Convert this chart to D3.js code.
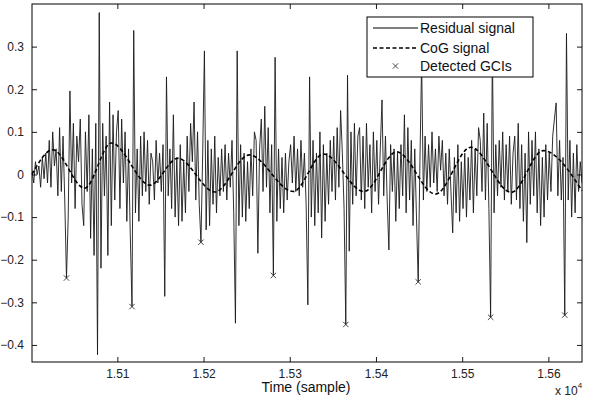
<!DOCTYPE html>
<html>
<head>
<meta charset="utf-8">
<style>
body { margin: 0; background: #fff; }
text { font-family: "Liberation Sans", Arial, sans-serif; }
</style>
</head>
<body>
<svg width="589" height="402"></svg>
<script src="https://d3js.org/d3.v7.min.js"></script>
<script>

// residual signal, one value every 2 samples starting at sample 15001
var resStart = 15001, resStep = 2;
var residual = [
  0.01,-0.02,0.03,0.00,0.02,-0.03,0.04,-0.01,0.05,-0.02,
  0.08,-0.03,0.10,0.02,0.06,-0.05,0.11,-0.04,0.09,-0.06,
  -0.243,-0.10,0.196,-0.02,0.12,-0.08,0.09,0.03,0.13,-0.07,
  -0.12,0.10,-0.04,0.14,-0.15,0.06,-0.19,0.12,-0.423,0.38,
  -0.22,0.12,-0.05,0.09,-0.19,0.17,-0.12,0.14,-0.06,0.10,
  0.15,-0.08,0.13,-0.02,0.10,-0.11,0.06,-0.14,-0.31,0.338,
  -0.09,0.06,-0.11,0.09,-0.05,0.10,-0.04,0.08,-0.07,0.05,
  0.03,-0.06,0.08,-0.02,0.05,-0.04,0.07,-0.286,0.229,-0.05,
  0.06,-0.08,0.14,-0.10,0.04,-0.12,0.07,-0.11,0.03,-0.09,
  0.09,-0.04,0.12,0.03,0.17,-0.06,0.10,-0.07,-0.159,0.05,
  0.29,-0.13,0.08,-0.12,0.06,-0.07,0.09,-0.09,0.04,-0.05,
  0.06,-0.04,0.07,-0.06,0.05,-0.03,0.08,-0.09,-0.349,0.29,
  -0.12,0.07,-0.10,0.05,-0.11,0.03,-0.08,0.06,-0.05,0.10,
  0.08,-0.185,0.06,0.13,-0.04,0.16,-0.03,0.11,-0.09,0.07,
  -0.237,0.275,-0.11,0.06,-0.08,0.04,-0.09,0.05,-0.06,0.03,
  0.07,-0.02,0.09,-0.04,0.06,-0.05,0.08,-0.03,0.05,-0.07,
  -0.306,0.229,-0.10,0.08,-0.12,0.05,-0.09,0.10,-0.149,0.07,
  -0.11,0.05,-0.07,0.08,-0.04,0.09,-0.06,0.11,-0.03,0.15,
  0.05,-0.08,-0.352,0.233,-0.18,0.10,-0.07,0.12,-0.05,0.09,
  0.11,-0.06,0.09,-0.08,0.12,-0.03,0.07,-0.09,0.10,-0.04,
  0.08,-0.07,0.06,0.175,-0.05,0.09,-0.06,-0.177,0.07,-0.04,
  0.06,-0.11,0.05,-0.08,0.07,-0.05,0.14,-0.09,0.11,-0.06,
  0.08,-0.12,0.06,-0.10,-0.252,0.03,0.27,-0.06,0.09,-0.04,
  0.07,-0.03,0.10,-0.02,0.06,-0.04,0.09,0.01,0.08,-0.05,
  0.05,-0.07,0.06,-0.04,-0.137,0.04,-0.09,0.07,-0.11,0.03,
  -0.08,0.05,-0.10,0.04,-0.06,0.08,-0.09,0.06,-0.05,0.11,
  0.08,-0.04,0.144,-0.06,0.12,-0.08,-0.335,0.30,-0.09,0.07,
  -0.05,0.08,-0.03,0.10,-0.06,0.07,-0.04,0.09,-0.07,0.05,
  0.09,-0.06,0.12,-0.08,0.07,-0.11,0.05,-0.16,0.10,-0.07,
  0.08,-0.05,0.10,-0.09,0.06,-0.12,0.04,-0.10,0.07,-0.06,
  0.05,-0.04,0.09,0.13,0.168,-0.05,0.08,-0.06,0.04,-0.33,
  0.331,-0.06,0.08,-0.10,0.05,-0.09,0.07,-0.04,0.03,-0.02
];

// CoG signal, read at its turning points
var cogX = [15001,15025,15062,15093,15138,15170,15213,15253,15304,15339,15386,15424,15469,15510,15557,15594,15639];
var cogY = [0.0,0.058,-0.032,0.074,-0.025,0.038,-0.041,0.046,-0.040,0.048,-0.040,0.053,-0.046,0.064,-0.042,0.056,-0.038];

// detected GCIs
var gciX = [15041,15117,15197,15281,15365,15449,15533,15619];
var gciY = [-0.243,-0.31,-0.159,-0.237,-0.352,-0.252,-0.335,-0.33];

var xTicks = [15100,15200,15300,15400,15500,15600];
var xTickLabels = ["1.51","1.52","1.53","1.54","1.55","1.56"];
var yTicks = [-0.4,-0.3,-0.2,-0.1,0,0.1,0.2,0.3];
var legendNames = ["Residual signal","CoG signal","Detected GCIs"];

var svg = d3.select("svg"),
    width = +svg.attr("width"),
    height = +svg.attr("height"),
    margin = {left: 32, top: 4, right: 7, bottom: 40},
    w = width - margin.left - margin.right,
    h = height - margin.top - margin.bottom;

var x = d3.scaleLinear().domain([15001, 15639]).range([0, w]);
var y = d3.scaleLinear().domain([-0.44, 0.40]).range([h, 0]);

var g = svg.append("g").attr("transform", "translate(" + margin.left + "," + margin.top + ")");

svg.append("clipPath").attr("id", "plot").append("rect")
    .attr("width", w).attr("height", h);

var resLine = d3.line()
    .x(function(d, i){ return x(resStart + i*resStep); })
    .y(function(d){ return y(d); });

g.append("path")
    .datum(residual)
    .attr("d", resLine)
    .attr("clip-path", "url(#plot)")
    .style("fill", "none")
    .style("stroke", "#1a1a1a")
    .style("stroke-width", 0.9);

var cogLine = d3.line()
    .curve(d3.curveMonotoneX)
    .x(function(d, i){ return x(cogX[i]); })
    .y(function(d){ return y(d); });

g.append("path")
    .datum(cogY)
    .attr("d", cogLine)
    .style("fill", "none")
    .style("stroke", "#000")
    .style("stroke-width", 1.6)
    .style("stroke-dasharray", "4,2.5");

function cross(sel, cx, cy, r){
    sel.append("path")
        .attr("d", "M" + (cx-r) + "," + (cy-r) + "L" + (cx+r) + "," + (cy+r) +
                   "M" + (cx-r) + "," + (cy+r) + "L" + (cx+r) + "," + (cy-r))
        .style("stroke", "#333")
        .style("stroke-width", 0.9)
        .style("fill", "none");
}
for(var i=0;i<gciX.length;i++){
    cross(g, x(gciX[i]), y(gciY[i]), 2.7);
}

// axes, matlab style: ticks inside, on all four sides
var tickLen = 5;
var ax = g.append("g").attr("transform", "translate(0," + h + ")")
    .call(d3.axisBottom(x).tickValues(xTicks).tickSize(-tickLen).tickPadding(7)
        .tickFormat(function(d, i){ return xTickLabels[i]; }));
var axTop = g.append("g")
    .call(d3.axisTop(x).tickValues(xTicks).tickSize(-tickLen).tickFormat(""));
var ay = g.append("g")
    .call(d3.axisLeft(y).tickValues(yTicks).tickSize(-tickLen).tickPadding(8)
        .tickFormat(function(d){ return d === 0 ? "0" : d3.format(".1f")(d); }));
var ayRight = g.append("g").attr("transform", "translate(" + w + ",0)")
    .call(d3.axisRight(y).tickValues(yTicks).tickSize(-tickLen).tickFormat(""));

[ax, axTop, ay, ayRight].forEach(function(a){
    a.select(".domain").remove();
    a.selectAll("line").style("stroke", "#000").style("stroke-width", 0.9);
    a.selectAll("text").style("font-size", "12px").style("fill", "#222")
        .style("font-family", "'Liberation Sans', Arial, sans-serif");
});

g.append("rect")
    .attr("width", w).attr("height", h)
    .style("fill", "none").style("stroke", "#000").style("stroke-width", 1);

svg.append("text")
    .attr("x", 306).attr("y", 392)
    .attr("text-anchor", "middle")
    .style("font-size", "14px").style("fill", "#111")
    .text("Time (sample)");

var ex = svg.append("text")
    .attr("x", 555).attr("y", 395)
    .style("font-size", "12px").style("fill", "#222");
ex.append("tspan").text("x 10");
ex.append("tspan").attr("dy", -7).style("font-size", "8px").text("4");

// legend
var lg = svg.append("g").attr("transform", "translate(367,17)");
lg.append("rect")
    .attr("width", 166).attr("height", 60)
    .style("fill", "#fff").style("stroke", "#000").style("stroke-width", 1);
var rowY = [11, 31, 49];
lg.append("line").attr("x1", 6).attr("x2", 51).attr("y1", rowY[0]).attr("y2", rowY[0])
    .style("stroke", "#000").style("stroke-width", 1);
lg.append("line").attr("x1", 6).attr("x2", 51).attr("y1", rowY[1]).attr("y2", rowY[1])
    .style("stroke", "#000").style("stroke-width", 1.6).style("stroke-dasharray", "4,2.5");
cross(lg, 28.5, rowY[2], 2.7);
lg.selectAll(".lt").data(legendNames).enter().append("text")
    .attr("class", "lt")
    .attr("x", 53)
    .attr("y", function(d, i){ return rowY[i] + 5; })
    .style("font-size", "14px").style("fill", "#111")
    .text(function(d){ return d; });

</script>
</body>
</html>
